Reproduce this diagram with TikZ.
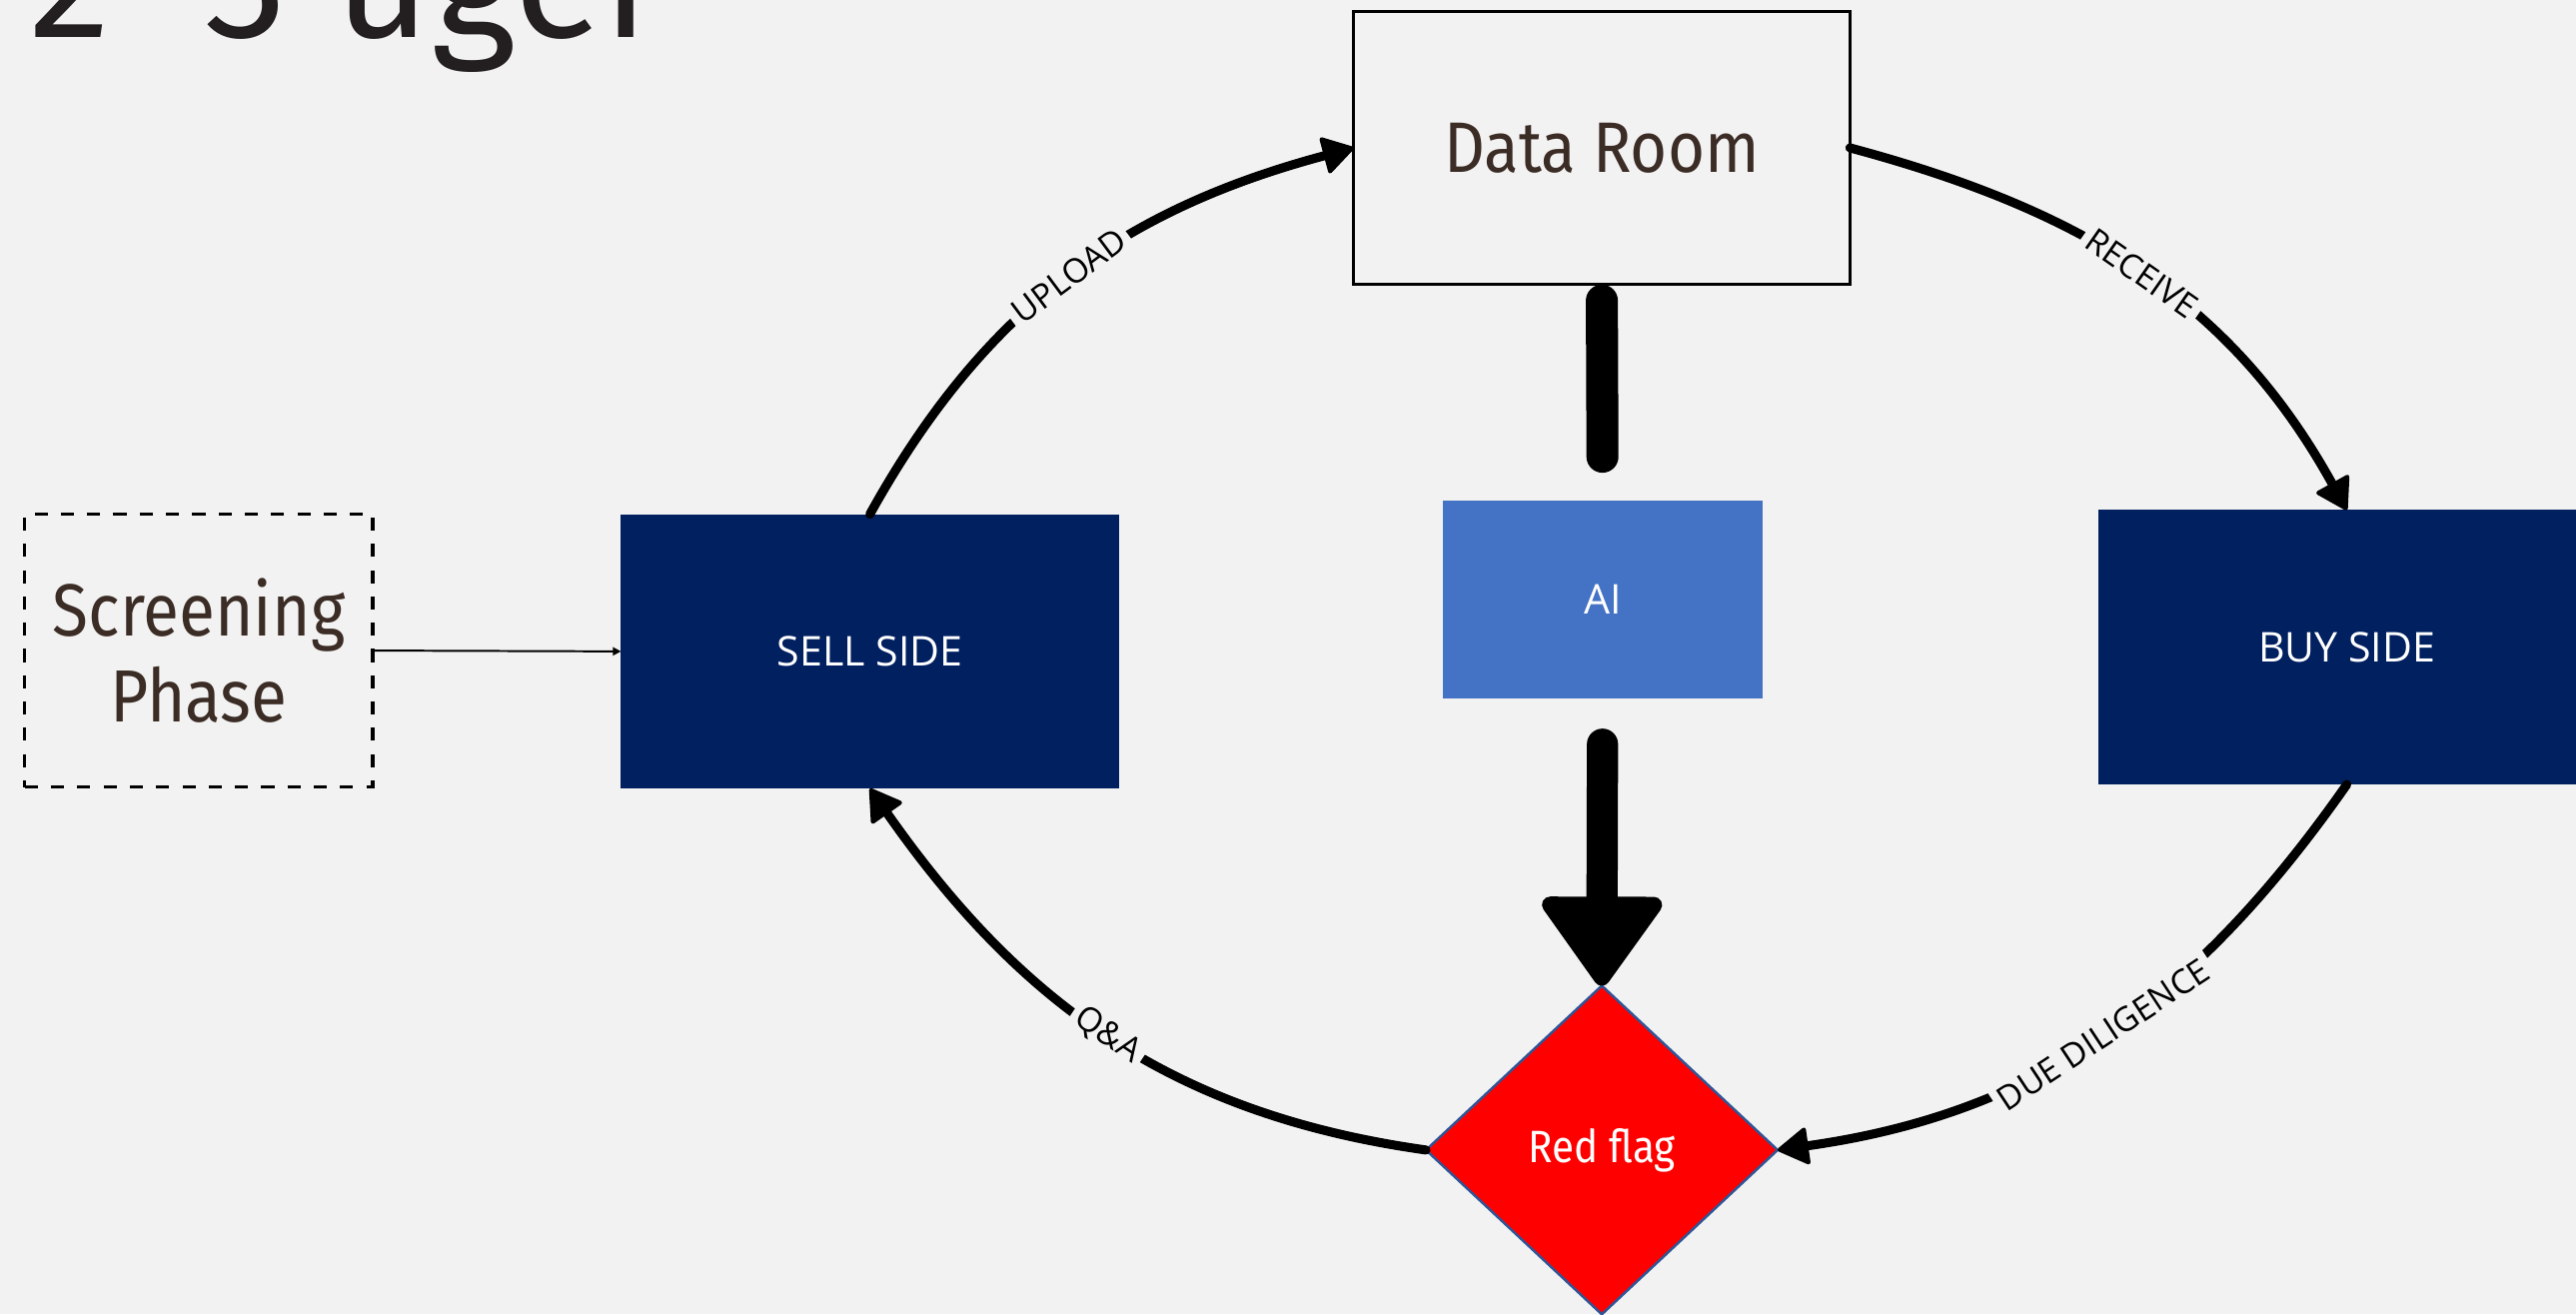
\documentclass[tikz,border=0pt]{standalone}
\usepackage{fontspec}
\setmainfont{Open Sans}
\newfontfamily\firac[FakeStretch=0.89]{Fira Sans}
\newfontfamily\firan{Fira Sans}
\usetikzlibrary{arrows.meta,shapes.geometric}
\definecolor{bg}{HTML}{F2F2F2}
\definecolor{navy}{HTML}{002060}
\definecolor{aiblue}{HTML}{4472C4}
\definecolor{brownt}{RGB}{59,44,37}
\definecolor{titlec}{HTML}{231F20}
\definecolor{diaedge}{HTML}{2F5597}
\begin{document}
\begin{tikzpicture}[x=1pt,y=1pt,
  sidebox/.style={fill=navy, text=white, minimum width=303pt, minimum height=167pt, inner sep=0pt, outer sep=0pt, font=\fontsize{25}{30}\selectfont},
  roombox/.style={draw=black, line width=2pt, minimum width=302pt, minimum height=166pt, inner sep=0pt, outer sep=0pt, text=brownt, font=\firac\fontsize{43.5}{50}\selectfont},
  screenbox/.style={draw=black, line width=2.2pt, dash pattern=on 8pt off 8pt, minimum width=212pt, minimum height=166pt, inner sep=0pt, outer sep=0pt, align=center, text=brownt, font=\firac\fontsize{45}{52}\selectfont},
  aibox/.style={fill=aiblue, text=white, minimum width=195pt, minimum height=120pt, inner sep=0pt, outer sep=0pt, font=\fontsize{25}{30}\selectfont},
  flagshape/.style={diamond, aspect=1.07, fill=red, draw=diaedge, line width=1.5pt, minimum width=214pt, minimum height=200pt, inner sep=0pt, outer sep=0pt, text=white, font=\firac\fontsize{27.6}{32}\selectfont},
  arc/.style={line width=5.5pt, line cap=round, -{Triangle[length=20pt,width=24pt,line width=2.5pt,round]}},
  lab/.style={fill=bg, inner sep=3.5pt, text=black, font=\fontsize{20.5}{24}\selectfont},
  thick/.style={line width=19.5pt, line cap=round}
]
\clip (0,0) rectangle (1568,800);
\useasboundingbox (0,0) rectangle (1568,800);
\fill[bg] (0,0) rectangle (1568,800);

\node[anchor=base west, inner sep=0pt, text=titlec, font=\firan\fontsize{100}{110}\selectfont] (title) at (18,777) {2\kern3pt–\kern2pt3\kern3pt{} uger};

\node[roombox] (data) at (975,710) {Data Room};
\node[screenbox] (screen) at (121,404) {Screening\\Phase};
\node[sidebox] (sell) at (529.5,403.5) {SELL SIDE};
\node[sidebox] (buy) at (1428.5,406) {BUY SIDE};
\node[aibox] (ai) at (975.5,435) {AI};
\node[flagshape] (flag) at (975,100) {Red flag};

\draw[thick, shorten <=10pt, shorten >=27pt] (data.south) -- (ai.north);
\draw[line width=19pt, line cap=round, shorten <=28pt, -{Triangle[length=58pt,width=80pt,line width=10pt,round]}] (ai.south) -- (flag.north);

\draw[line width=1.2pt, -{Triangle[length=5pt,width=5pt]}] (screen.east) -- (sell.west);

\draw[arc] (sell.north) to[out=61,in=195] node[lab, pos=.5, sloped] {UPLOAD} (data.west);
\draw[arc] (data.east) to[out=-15,in=119] node[lab, pos=.5, sloped] {RECEIVE} (buy.north);
\draw[arc] (buy.south) to[out=235,in=8] node[lab, pos=.5, sloped] {DUE DILIGENCE} (flag.east);
\draw[arc] (flag.west) to[out=172,in=-55] node[lab, pos=.5, sloped] {Q\&A} (sell.south);
\end{tikzpicture}
\end{document}
